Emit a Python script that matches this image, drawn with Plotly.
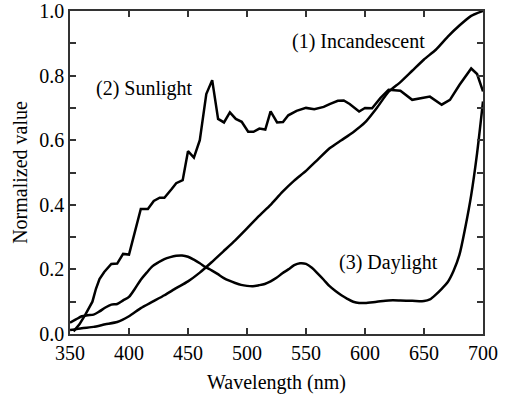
import plotly.graph_objects as go

# Incandescent (1)
inc_x = [350, 360, 370, 380, 390, 400, 410, 420, 430, 440, 450, 460, 470, 480, 490, 500,
         510, 520, 530, 540, 550, 560, 570, 580, 590, 600, 610, 620, 630, 640, 650, 660,
         670, 680, 690, 700]
inc_y = [0.012, 0.018, 0.022, 0.030, 0.037, 0.055, 0.080, 0.100, 0.120, 0.142, 0.163, 0.190,
         0.222, 0.256, 0.290, 0.327, 0.365, 0.400, 0.440, 0.475, 0.505, 0.540, 0.575, 0.600,
         0.625, 0.655, 0.700, 0.750, 0.780, 0.815, 0.850, 0.880, 0.920, 0.955, 0.985, 1.000]

# Sunlight (2)
sun_x = [353, 358, 363, 369, 372, 375, 379, 385, 390, 395, 400, 410, 416, 421, 426, 430, 436,
         440, 445.5, 450, 455, 460, 465.5, 470.5, 475.5, 480.5, 485.5, 490.5, 495.5, 501,
         505.5, 510.5, 515.5, 520, 525.5, 530.5, 535, 542, 550, 557, 565, 570, 577, 582,
         587, 595, 600, 606, 613, 620, 630, 640, 655, 658, 665, 672, 680, 690, 695, 700]
sun_y = [0.008, 0.030, 0.060, 0.100, 0.140, 0.170, 0.192, 0.217, 0.218, 0.248, 0.246, 0.387,
         0.387, 0.412, 0.422, 0.422, 0.448, 0.467, 0.476, 0.566, 0.546, 0.600, 0.743, 0.786,
         0.666, 0.655, 0.686, 0.666, 0.657, 0.626, 0.626, 0.636, 0.633, 0.689, 0.655, 0.656,
         0.677, 0.691, 0.700, 0.696, 0.703, 0.712, 0.722, 0.723, 0.712, 0.689, 0.700, 0.699,
         0.730, 0.756, 0.753, 0.725, 0.735, 0.727, 0.710, 0.725, 0.771, 0.822, 0.805, 0.751]

# Daylight (3)
day_x = [350, 355, 360, 365, 370, 375, 380, 385, 390, 395, 400, 405, 410, 415, 420, 425, 430,
         435, 440, 445, 450, 455, 460, 465, 470, 475, 480, 485, 490, 495, 500, 505, 510, 515,
         520, 525, 530, 535, 540, 545, 550, 555, 560, 565, 570, 575, 580, 585, 590, 595, 600,
         610, 620, 630, 640, 650, 655, 660, 665, 670, 675, 680, 685, 690, 695, 700]
day_y = [0.035, 0.045, 0.055, 0.058, 0.060, 0.070, 0.082, 0.091, 0.093, 0.104, 0.115, 0.140,
         0.168, 0.190, 0.210, 0.222, 0.232, 0.238, 0.242, 0.243, 0.239, 0.230, 0.219, 0.207,
         0.197, 0.186, 0.174, 0.165, 0.158, 0.152, 0.149, 0.148, 0.151, 0.155, 0.163, 0.174,
         0.188, 0.200, 0.213, 0.219, 0.217, 0.205, 0.187, 0.168, 0.148, 0.133, 0.120, 0.109,
         0.100, 0.096, 0.096, 0.100, 0.104, 0.104, 0.103, 0.102, 0.107, 0.122, 0.140, 0.160,
         0.195, 0.245, 0.330, 0.430, 0.560, 0.720]

x_ticks = [350, 400, 450, 500, 550, 600, 650, 700]
y_tickvals = [0.0, 0.1, 0.2, 0.3, 0.4, 0.5, 0.6, 0.7, 0.8, 0.9, 1.0]
y_ticktext = ["0.0", "", "0.2", "", "0.4", "", "0.6", "", "0.8", "", "1.0"]

labels = ["(1) Incandescent", "(2) Sunlight", "(3) Daylight"]
label_x = [594.7, 412.9, 620.3]
label_y = [0.905, 0.761, 0.222]

FONT = "Liberation Serif, Times New Roman, serif"
line = dict(color="black", width=2.5)

fig = go.Figure()
fig.add_trace(go.Scatter(x=inc_x, y=inc_y, mode="lines", line=dict(line, shape="spline", smoothing=0.5)))
fig.add_trace(go.Scatter(x=sun_x, y=sun_y, mode="lines", line=line))
fig.add_trace(go.Scatter(x=day_x, y=day_y, mode="lines", line=dict(line, shape="spline", smoothing=0.8)))

for t, lx, ly in zip(labels, label_x, label_y):
    fig.add_annotation(x=lx, y=ly, text=t, showarrow=False,
                       font=dict(family=FONT, size=20, color="black"))

axis_common = dict(showline=True, linecolor="#333", linewidth=1.5, mirror="ticks",
                   ticks="inside", ticklen=6, tickwidth=1.5, tickcolor="#333",
                   showgrid=False, zeroline=False, automargin=False,
                   ticklabeloverflow="allow",
                   tickfont=dict(family=FONT, size=20, color="black"))

fig.update_xaxes(range=[350, 700], tickvals=x_ticks, ticktext=[str(v) for v in x_ticks],
                 title=dict(text="Wavelength (nm)", font=dict(family=FONT, size=20, color="black"),
                            standoff=12),
                 **axis_common)
fig.update_yaxes(range=[0, 1.0], tickvals=y_tickvals, ticktext=y_ticktext,
                 title=dict(text="Normalized value", font=dict(family=FONT, size=20, color="black"),
                            standoff=6),
                 **axis_common)

fig.update_layout(width=505, height=401, showlegend=False,
                  margin=dict(l=70, r=22, t=11, b=67),
                  plot_bgcolor="white", paper_bgcolor="white",
                  font=dict(family=FONT, size=20, color="black"))

fig.write_html("out.html", config={"displayModeBar": False},
               post_script="document.body.style.margin='0';document.body.style.overflow='hidden';")
